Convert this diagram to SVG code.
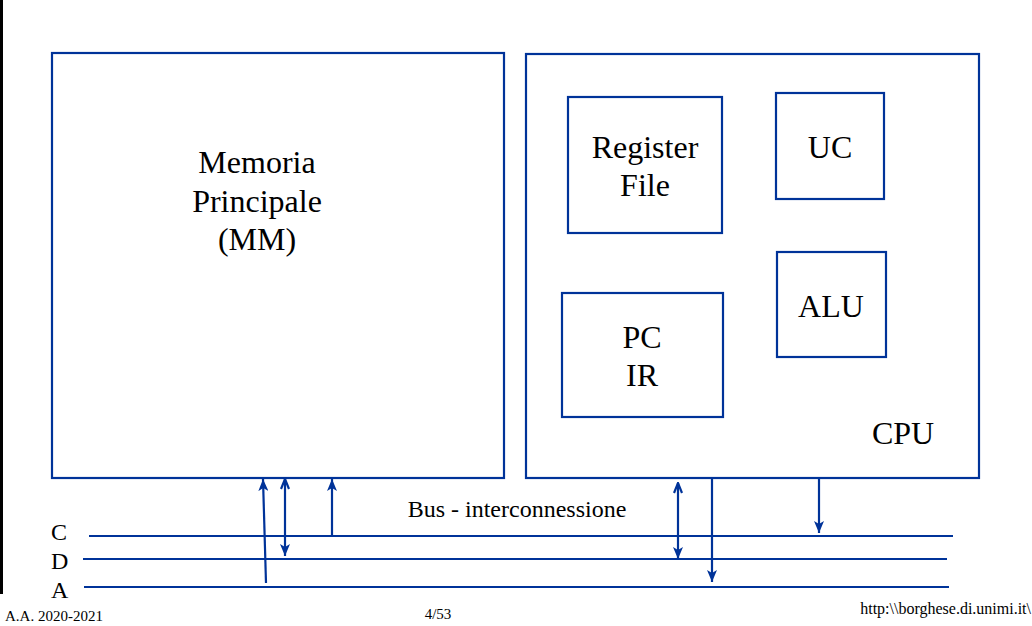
<svg xmlns="http://www.w3.org/2000/svg" width="1032" height="626" viewBox="0 0 1032 626">
<style>
.box{fill:#fff;stroke:#003399;stroke-width:2.2}
.ln{stroke:#003399;stroke-width:2.2;fill:none}
.t{font-family:"Liberation Serif","Times New Roman",serif;fill:#000}
.big{font-size:32px;text-anchor:middle}
</style>
<defs>
<marker id="stealth" viewBox="0 0 12 10" refX="12" refY="5" markerWidth="12" markerHeight="10" markerUnits="userSpaceOnUse" orient="auto-start-reverse">
<path d="M0,0 L12,5 L0,10 L3,5 Z" fill="#003399"/>
</marker>
<marker id="open" viewBox="0 0 12 10" refX="11" refY="5" markerWidth="12" markerHeight="10" markerUnits="userSpaceOnUse" orient="auto-start-reverse">
<path d="M1,1 L11,5 L1,9" fill="none" stroke="#003399" stroke-width="2.2"/>
</marker>
</defs>
<rect width="1032" height="626" fill="#fff"/>
<rect x="0" y="0" width="3" height="594" fill="#000"/>

<g id="mm">
<rect class="box" x="52" y="53" width="452" height="425"/>
<text class="t big" x="257" y="173">Memoria</text>
<text class="t big" x="257" y="212">Principale</text>
<text class="t big" x="257" y="250">(MM)</text>
</g>

<g id="cpu">
<rect class="box" x="526" y="54" width="453" height="424"/>
<text class="t big" x="903" y="444">CPU</text>
</g>

<g id="regfile">
<rect class="box" x="568" y="97" width="154" height="136"/>
<text class="t big" x="645" y="158">Register</text>
<text class="t big" x="645" y="196">File</text>
</g>

<g id="uc">
<rect class="box" x="776" y="93" width="108" height="106"/>
<text class="t big" x="830" y="158">UC</text>
</g>

<g id="pcir">
<rect class="box" x="562" y="293" width="161" height="124"/>
<text class="t big" x="642" y="348">PC</text>
<text class="t big" x="642" y="386">IR</text>
</g>

<g id="alu">
<rect class="box" x="777" y="252" width="109" height="105"/>
<text class="t big" x="831" y="317">ALU</text>
</g>

<g id="bus">
<line class="ln" x1="89" y1="536" x2="953" y2="536"/>
<line class="ln" x1="83" y1="559" x2="947" y2="559"/>
<line class="ln" x1="84" y1="587" x2="949" y2="587"/>
<text class="t" x="51" y="540" font-size="24">C</text>
<text class="t" x="51" y="569" font-size="24">D</text>
<text class="t" x="51" y="598" font-size="24">A</text>
<text class="t" x="517" y="517" font-size="24">
<tspan text-anchor="middle">Bus - interconnessione</tspan></text>
</g>

<g id="connectors">
<line class="ln" x1="266" y1="583" x2="263" y2="479" marker-end="url(#stealth)"/>
<line class="ln" x1="285" y1="479" x2="285" y2="556" marker-start="url(#open)" marker-end="url(#stealth)"/>
<line class="ln" x1="332" y1="535" x2="332" y2="479" marker-end="url(#stealth)"/>
<line class="ln" x1="678" y1="483" x2="678" y2="559" marker-start="url(#open)" marker-end="url(#stealth)"/>
<line class="ln" x1="712" y1="478" x2="712" y2="582" marker-end="url(#stealth)"/>
<line class="ln" x1="819" y1="478" x2="819" y2="533" marker-end="url(#stealth)"/>
</g>

<g id="footer">
<text class="t" x="5" y="621" font-size="15">A.A. 2020-2021</text>
<text class="t" x="438" y="619" font-size="15" text-anchor="middle">4/53</text>
<text class="t" x="1031" y="614" font-size="16" text-anchor="end">http:\\borghese.di.unimi.it\</text>
</g>
</svg>
